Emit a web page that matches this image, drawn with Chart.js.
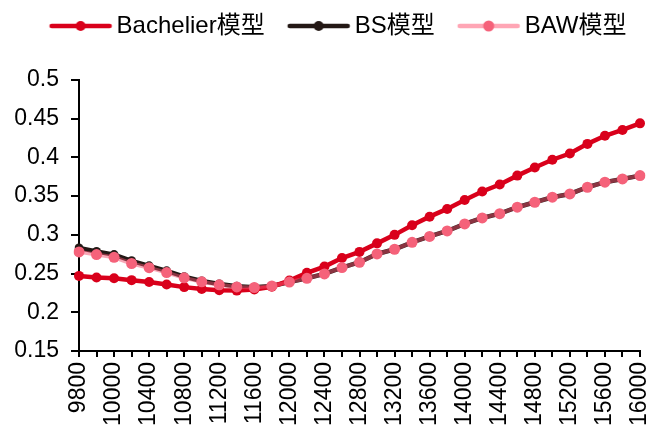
<!DOCTYPE html>
<html>
<head>
<meta charset="utf-8">
<script src="https://cdn.jsdelivr.net/npm/chart.js@4/dist/chart.umd.min.js"></script>
<style>
  html, body { margin: 0; padding: 0; background: #fff; }
  #wrap { position: relative; width: 663px; height: 441px; }
</style>
</head>
<body>
<div id="wrap"><canvas id="chart"></canvas></div>
<script>
// strike prices (x categories)
var strikes = ['9800', '9900', '10000', '10200', '10400', '10600', '10800', '11000', '11200', '11400',
    '11600', '11800', '12000', '12200', '12400', '12600', '12800', '13000', '13200', '13400',
    '13600', '13800', '14000', '14200', '14400', '14600', '14800', '15000', '15200', '15400',
    '15600', '15800', '16000'];

var bachelierVals = [0.247, 0.245, 0.244, 0.2415, 0.239, 0.236, 0.2325, 0.230, 0.2285, 0.228,
    0.2295, 0.233, 0.241, 0.251, 0.259, 0.270, 0.278, 0.289, 0.300, 0.3125,
    0.3235, 0.3335, 0.345, 0.356, 0.365, 0.3765, 0.387, 0.397, 0.405, 0.4175,
    0.428, 0.4355, 0.444];

var bsVals = [0.283, 0.2785, 0.2745, 0.2665, 0.260, 0.2535, 0.246, 0.2405, 0.2365, 0.2335,
    0.2322, 0.234, 0.239, 0.2439, 0.2495, 0.2577, 0.2646, 0.2753, 0.2814, 0.2904,
    0.298, 0.305, 0.3141, 0.3218, 0.3274, 0.3357, 0.3421, 0.3486, 0.3528, 0.3615,
    0.368, 0.3722, 0.3765];

var bawVals = [0.278, 0.2745, 0.271, 0.263, 0.2576, 0.2513, 0.2445, 0.2393, 0.2355, 0.2327,
    0.232, 0.234, 0.239, 0.2439, 0.2495, 0.2577, 0.2646, 0.2753, 0.2814, 0.2904,
    0.298, 0.305, 0.3141, 0.3218, 0.3274, 0.3357, 0.3421, 0.3486, 0.3528, 0.3615,
    0.368, 0.3722, 0.3765];

var seriesNames = ['Bachelier模型', 'BS模型', 'BAW模型'];

var yTicks = [0.15, 0.2, 0.25, 0.3, 0.35, 0.4, 0.45, 0.5];

var FONT = '"Liberation Sans", Arial, "Noto Sans CJK SC", sans-serif';

// legend icon: a short line with a dot in the middle
function makeIcon(lineColor, dotColor, dotR) {
    var c = document.createElement('canvas');
    c.width = 84;
    c.height = 16;
    var g = c.getContext('2d');
    g.strokeStyle = lineColor;
    g.lineWidth = 4.5;
    g.lineCap = 'round';
    g.beginPath();
    g.moveTo(23, 8);
    g.lineTo(81, 8);
    g.stroke();
    g.fillStyle = dotColor;
    g.beginPath();
    g.arc(52, 8, dotR, 0, Math.PI * 2);
    g.fill();
    return c;
}

var icons = [
    makeIcon('#D9001B', '#D9001B', 5),
    makeIcon('#231815', '#231815', 5),
    makeIcon('#FFA6B5', '#F5627A', 5.5)
];

// keep the plot top where the reference has it
var fixLegend = {
    id: 'fixLegend',
    afterInit: function (chart) {
        var lg = chart.legend;
        var origFit = lg.fit.bind(lg);
        lg.fit = function () {
            origFit();
            this.height = 76;
        };
    }
};

var ctx = document.getElementById('chart');
var myChart = new Chart(ctx, {
    type: 'line',
    data: {
        labels: strikes,
        datasets: [{
            label: seriesNames[0],
            data: bachelierVals,
            order: 1,
            borderColor: '#D9001B',
            backgroundColor: '#D9001B',
            borderWidth: 4.5,
            pointRadius: 5,
            pointBorderWidth: 0,
            pointBackgroundColor: '#D9001B',
            tension: 0
        },
        {
            label: seriesNames[1],
            data: bsVals,
            order: 2,
            borderColor: '#231815',
            backgroundColor: '#231815',
            borderWidth: 4.5,
            pointRadius: 4.5,
            pointBorderWidth: 0,
            pointBackgroundColor: '#231815',
            tension: 0
        },
        {
            label: seriesNames[2],
            data: bawVals,
            order: 0,
            borderColor: 'rgba(242,80,110,0.5)',
            backgroundColor: '#F5627A',
            borderWidth: 4,
            pointRadius: 5.5,
            pointBorderWidth: 0,
            pointBackgroundColor: '#F5627A',
            tension: 0
        }]
    },
    options: {
        responsive: true,
        maintainAspectRatio: false,
        animation: false,
        layout: { padding: { left: 0, right: 0, top: 4, bottom: 0 } },
        plugins: {
            tooltip: { enabled: false },
            legend: {
                position: 'top',
                align: 'center',
                labels: {
                    usePointStyle: true,
                    pointStyleWidth: 68,
                    boxHeight: 16,
                    padding: 10,
                    color: '#000',
                    font: { family: FONT, size: 24 },
                    generateLabels: function (chart) {
                        return chart.data.datasets.map(function (ds, i) {
                            return {
                                text: ds.label,
                                pointStyle: icons[i],
                                fillStyle: 'rgba(0,0,0,0)',
                                strokeStyle: 'rgba(0,0,0,0)',
                                lineWidth: 0,
                                fontColor: '#000',
                                hidden: false,
                                datasetIndex: i
                            };
                        });
                    }
                }
            }
        },
        scales: {
            x: {
                offset: false,
                afterFit: function (scale) {
                    scale.height = 90;
                    scale.paddingLeft = 0;
                    scale.paddingRight = 23;
                },
                grid: {
                    display: true,
                    drawOnChartArea: false,
                    drawTicks: true,
                    tickLength: 6,
                    color: '#000',
                    lineWidth: 2
                },
                border: { display: true, color: '#000', width: 2 },
                ticks: {
                    autoSkip: false,
                    maxRotation: 90,
                    minRotation: 90,
                    padding: 5,
                    color: '#000',
                    font: { family: FONT, size: 23 },
                    callback: function (v, i) {
                        return i % 2 === 0 ? strikes[i] : '';
                    }
                }
            },
            y: {
                min: yTicks[0],
                max: yTicks[yTicks.length - 1],
                afterFit: function (scale) { scale.width = 79; },
                afterBuildTicks: function (scale) {
                    scale.ticks = yTicks.map(function (v) { return { value: v }; });
                },
                grid: {
                    display: true,
                    drawOnChartArea: false,
                    drawTicks: true,
                    tickLength: 8,
                    color: '#000',
                    lineWidth: 2
                },
                border: { display: true, color: '#000', width: 2 },
                ticks: {
                    padding: 12,
                    color: '#000',
                    font: { family: FONT, size: 23 },
                    callback: function (v) { return String(+Number(v).toFixed(2)); }
                }
            }
        }
    },
    plugins: [fixLegend]
});
</script>
</body>
</html>
